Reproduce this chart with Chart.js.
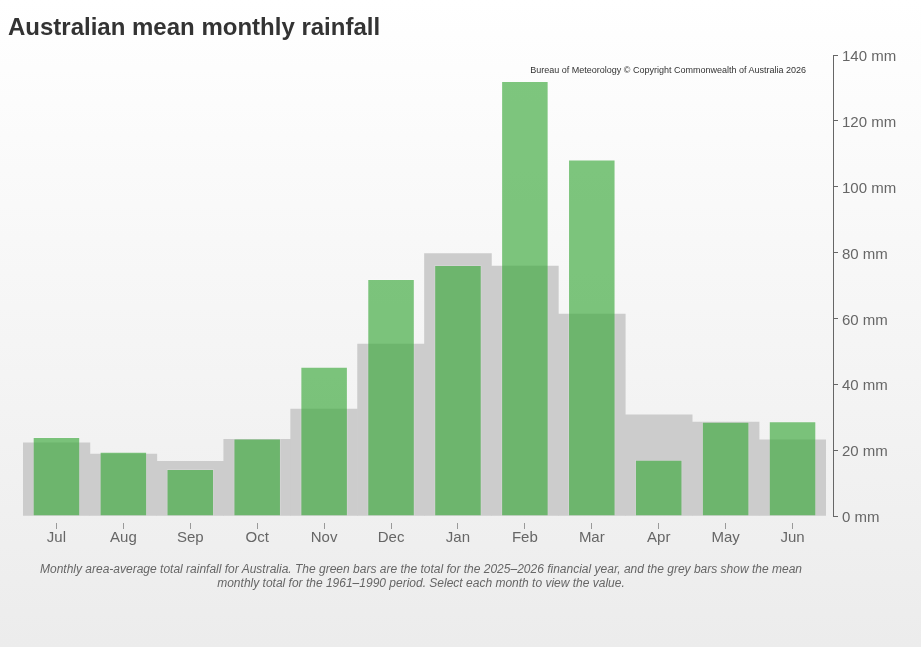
<!DOCTYPE html>
<html>
<head>
<meta charset="utf-8">
<script src="https://cdn.jsdelivr.net/npm/chart.js@4/dist/chart.umd.min.js"></script>
<style>
  html, body { margin:0; padding:0; }
  body { width:921px; height:647px; position:relative; overflow:hidden;
         background:linear-gradient(#ffffff, #ececec); font-family:"Liberation Sans", Arial, sans-serif; }
  #wrap { position:absolute; left:0; top:0; width:921px; height:647px; }
  .title { position:absolute; left:8px; top:15px; font-size:24px; line-height:24px; font-weight:bold; color:#333; white-space:nowrap; }
  .credits { position:absolute; right:115px; top:65px; font-size:9px; line-height:10px; color:#333; white-space:nowrap; }
  .caption { position:absolute; left:20px; width:802px; top:562px; font-size:12px; line-height:14px; font-style:italic; color:#666; text-align:center; white-space:nowrap; }
</style>
</head>
<body>
<div id="wrap"><canvas id="rainChart" width="921" height="647"></canvas></div>
<div class="title">Australian mean monthly rainfall</div>
<div class="credits">Bureau of Meteorology © Copyright Commonwealth of Australia 2026</div>
<div class="caption">Monthly area-average total rainfall for Australia. The green bars are the total for the 2025–2026 financial year, and the grey bars show the mean<br>monthly total for the 1961–1990 period. Select each month to view the value.</div>
<script>
// months of the financial year
const months = ['Jul','Aug','Sep','Oct','Nov','Dec','Jan','Feb','Mar','Apr','May','Jun'];
// 2025-2026 totals (mm)
const rain2025 = [24.0, 19.5, 14.3, 23.5, 45.3, 72.0, 76.2, 132.1, 108.3, 17.1, 28.6, 28.8];
// 1961-1990 mean (mm)
const mean6190 = [22.2, 18.8, 16.6, 23.3, 32.5, 52.2, 79.7, 75.9, 61.3, 30.7, 28.5, 23.1];
const yTicks = [0, 20, 40, 60, 80, 100, 120, 140];

// leave a small gap between the bars and the right hand axis line
const axisGap = {
  id:'axisGap',
  afterLayout(chart){
    const x = chart.scales.x;
    x.right -= 7; x.width -= 7;
    x.configure();
  }
};

const ctx = document.getElementById('rainChart').getContext('2d');
window.rainChart = new Chart(ctx, {
  type:'bar',
  data:{
    labels: months,
    datasets:[
      { label:'2025–2026', data: rain2025, order:1, grouped:false,
        backgroundColor:'rgba(62,170,62,0.67)', borderColor:'rgba(255,255,255,0.15)', borderWidth:1,
        barPercentage:0.71, categoryPercentage:1 },
      { label:'1961–1990 mean', data: mean6190, order:2, grouped:false,
        backgroundColor:'#cccccc', borderWidth:0,
        barPercentage:1, categoryPercentage:1 }
    ]
  },
  options:{
    animation:false, responsive:false,
    layout:{ padding:{ left:23, top:55, right:0, bottom:0 } },
    plugins:{ legend:{ display:false }, title:{ display:false }, tooltip:{ enabled:true } },
    scales:{
      x:{
        grid:{ offset:false, drawOnChartArea:false, drawTicks:true, tickLength:13, tickColor:'#999', tickBorderDash:[0,7,6,100] },
        border:{ display:false },
        ticks:{ color:'#666', font:{ family:'Liberation Sans', size:15 }, padding:0, maxRotation:0 },
        afterFit: s => { s.height = 131; }
      },
      y:{
        position:'right', min:0, max:140,
        afterBuildTicks: s => { s.ticks = yTicks.map(v => ({ value:v })); },
        grid:{ drawOnChartArea:false, drawTicks:true, tickLength:5, tickColor:'#666' },
        border:{ display:true, color:'#666', width:1 },
        ticks:{ color:'#666', font:{ family:'Liberation Sans', size:15 }, padding:4, labelOffset:2, callback: v => v + ' mm' },
        afterFit: s => { s.width = 88; }
      }
    }
  },
  plugins:[axisGap]
});
</script>
</body>
</html>
